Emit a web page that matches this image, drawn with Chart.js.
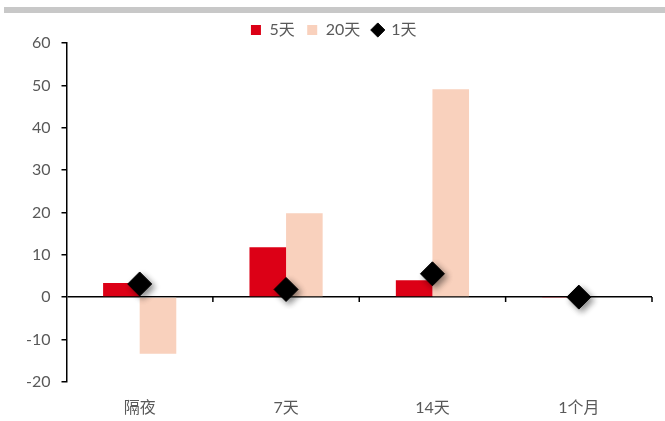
<!DOCTYPE html>
<html>
<head>
<meta charset="utf-8">
<script src="https://cdn.jsdelivr.net/npm/chart.js@4.4.1/dist/chart.umd.min.js"></script>
<style>
  html, body { margin: 0; padding: 0; background: #fff; }
  #wrap { position: relative; width: 665px; height: 421px; }
  #topbar { position: absolute; left: 4px; top: 7px; width: 661px; height: 6px; background: #c8c8c8; }
  canvas { position: absolute; left: 0; top: 0; }
</style>
</head>
<body>
<div id="wrap">
  <div id="topbar"></div>
  <canvas id="chart" width="665" height="421"></canvas>
</div>
<script>
const categories = ['隔夜', '7天', '14天', '1个月'];
const values5d = [3.3, 11.8, 4.0, -0.2];
const values20d = [-13.4, 19.8, 49.1, 0];
const values1d = [3.1, 1.8, 5.5, 0];
const yMin = -20, yMax = 60, yStep = 10;

const FONT = 'Lato, "Noto Sans CJK SC", sans-serif';
const GREY = '#595959';

// soft shadow under the diamonds
const diamondShadow = {
    id: 'diamondShadow',
    beforeDatasetDraw(chart, args) {
        if (args.index !== 2) return;
        const ctx = chart.ctx;
        ctx.save();
        ctx.shadowColor = 'rgba(0,0,0,0.45)';
        ctx.shadowBlur = 6;
        ctx.shadowOffsetX = 3;
        ctx.shadowOffsetY = 3;
    },
    afterDatasetDraw(chart, args) {
        if (args.index !== 2) return;
        chart.ctx.restore();
    }
};

// small tick marks hanging under the zero line, between categories
const zeroTicks = {
    id: 'zeroTicks',
    afterDraw(chart) {
        const xs = chart.scales.x, ys = chart.scales.y;
        const y0 = ys.getPixelForValue(0);
        const ctx = chart.ctx;
        ctx.save();
        ctx.strokeStyle = '#000';
        ctx.lineWidth = 1.5;
        ctx.beginPath();
        for (let i = 1; i <= categories.length; i++) {
            let px;
            if (i === categories.length) px = xs.right;
            else px = (xs.getPixelForTick(i - 1) + xs.getPixelForTick(i)) / 2;
            ctx.moveTo(px, y0);
            ctx.lineTo(px, y0 + 5);
        }
        ctx.stroke();
        ctx.restore();
    }
};

new Chart(document.getElementById('chart'), {
    type: 'bar',
    data: {
        labels: categories,
        datasets: [{
            label: '5天',
            data: values5d,
            backgroundColor: '#dc0016',
            pointStyle: 'rect',
            order: 1
        }, {
            label: '20天',
            data: values20d,
            backgroundColor: '#f9d1bd',
            pointStyle: 'rect',
            order: 1
        }, {
            type: 'line',
            label: '1天',
            data: values1d,
            showLine: false,
            pointStyle: 'rectRot',
            pointRadius: 12,
            pointHoverRadius: 12,
            backgroundColor: '#000',
            borderColor: '#000',
            pointBackgroundColor: '#000',
            pointBorderColor: '#000',
            order: 0
        }]
    },
    options: {
        responsive: false,
        animation: false,
        layout: { padding: { top: 10, left: 15, right: 13, bottom: -12 } },
        datasets: {
            bar: { barPercentage: 1, categoryPercentage: 0.5 }
        },
        plugins: {
            legend: {
                position: 'top',
                maxHeight: 33,
                labels: {
                    usePointStyle: true,
                    boxWidth: 11,
                    boxHeight: 10,
                    padding: 12,
                    color: GREY,
                    font: { family: FONT, size: 16 },
                    sort: (a, b) => a.datasetIndex - b.datasetIndex
                }
            },
            tooltip: { enabled: false }
        },
        scales: {
            x: {
                grid: { display: false, drawTicks: false },
                border: { display: false },
                ticks: { color: GREY, padding: 16, font: { family: FONT, size: 16 } }
            },
            y: {
                min: yMin,
                max: yMax,
                border: { display: true, color: '#000', width: 1.5 },
                grid: {
                    color: ctx => ctx.tick && ctx.tick.value === 0 ? '#000' : 'rgba(0,0,0,0)',
                    lineWidth: 1.5,
                    tickColor: '#000',
                    tickLength: 5
                },
                ticks: {
                    stepSize: yStep,
                    color: GREY,
                    padding: 11,
                    font: { family: FONT, size: 16 }
                }
            }
        }
    },
    plugins: [diamondShadow, zeroTicks]
});
</script>
</body>
</html>
